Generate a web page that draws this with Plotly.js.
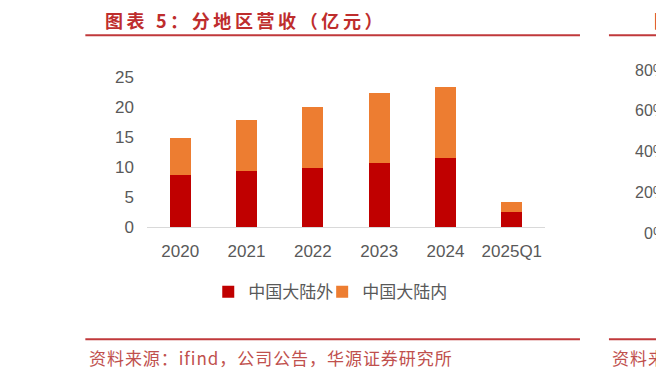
<!DOCTYPE html>
<html>
<head>
<meta charset="utf-8">
<script src="https://cdn.plot.ly/plotly-3.0.1.min.js"></script>
<style>html,body{margin:0;padding:0;background:#fff;}#chart{width:656px;height:377px;}</style>
</head>
<body>
<div id="chart"></div>
<script>
// ---- data ----
const categories = ['2020', '2021', '2022', '2023', '2024', '2025Q1'];
const outsideMainland = [8.7, 9.3, 9.9, 10.7, 11.5, 2.5];   // 中国大陆外
const insideMainland  = [6.2, 8.6, 10.1, 11.6, 11.8, 1.7];  // 中国大陆内
const seriesNames = ['中国大陆外', '中国大陆内'];
const yTicks = [0, 5, 10, 15, 20, 25];
const titleText = '图表 5：分地区营收（亿元）';
const sourceText = '资料来源：ifind，公司公告，华源证券研究所';
const neighbourTicks = ['80%', '60%', '40%', '20%', '0%'];

// ---- layout geometry (pixels) ----
const W = 656, H = 377;
const L = 146.7, R = 545, T = 76.7, B = 226.7;
const px = v => (v - L) / (R - L);
const py = v => (B - v) / (B - T);

const red = '#C00000', orange = '#ED7D31';
const accent = '#C0393B';
const tickFont = {family: '"Liberation Sans", Arial, sans-serif', size: 17, color: '#595959'};
const legendFont = {family: '"Noto Sans CJK SC", sans-serif', size: 17, color: '#595959'};

const traces = [
  {type: 'bar', x: categories, y: outsideMainland, name: seriesNames[0], marker: {color: red}, legend: 'legend'},
  {type: 'bar', x: categories, y: insideMainland, name: seriesNames[1], marker: {color: orange}, legend: 'legend2'}
];

const annotations = [
  {text: titleText, xref: 'paper', yref: 'paper', x: px(103), y: py(20), xanchor: 'left', yanchor: 'middle',
   showarrow: false, font: {family: '"Noto Sans CJK SC", sans-serif', size: 18, color: '#BE2D2D', weight: 700}},
  {text: sourceText, xref: 'paper', yref: 'paper', x: px(87), y: py(357), xanchor: 'left', yanchor: 'middle',
   showarrow: false, font: {family: '"Noto Sans CJK SC", sans-serif', size: 17, color: '#C0504D'}},
  {text: '图表 6', xref: 'paper', yref: 'paper', x: px(652), y: py(20), xanchor: 'left', yanchor: 'middle',
   showarrow: false, font: {family: '"Noto Sans CJK SC", sans-serif', size: 18, color: '#BE2D2D', weight: 700}},
  {text: '资料来源', xref: 'paper', yref: 'paper', x: px(610), y: py(357), xanchor: 'left', yanchor: 'middle',
   showarrow: false, font: {family: '"Noto Sans CJK SC", sans-serif', size: 17, color: '#C0504D'}}
];
const neighbourY = [70, 110, 151.5, 192.5, 233];
neighbourTicks.forEach((t, i) => annotations.push({
  text: t, xref: 'paper', yref: 'paper', x: px(669), y: py(neighbourY[i]), xanchor: 'right', yanchor: 'middle',
  showarrow: false, font: {family: '"Liberation Sans", Arial, sans-serif', size: 16, color: '#595959'}
}));

const line = (x0, x1, y) => ({type: 'line', xref: 'paper', yref: 'paper', x0: px(x0), x1: px(x1), y0: py(y), y1: py(y),
  line: {color: accent, width: 2}});
const shapes = [line(85, 580, 35), line(85, 580, 339), line(609, 660, 35), line(609, 660, 339)];

const layout = {
  width: W, height: H,
  margin: {l: L, r: W - R, t: T, b: H - B, pad: 0},
  paper_bgcolor: '#fff', plot_bgcolor: '#fff',
  barmode: 'stack', bargap: 0.68,
  showlegend: true,
  legend: {orientation: 'h', x: px(208), y: py(292), xanchor: 'left', yanchor: 'middle',
    font: legendFont, bgcolor: 'rgba(0,0,0,0)'},
  legend2: {orientation: 'h', x: px(322), y: py(292), xanchor: 'left', yanchor: 'middle',
    font: legendFont, bgcolor: 'rgba(0,0,0,0)'},
  xaxis: {type: 'category', range: [-0.5, 5.5], showgrid: false, zeroline: false, showline: true,
    linecolor: '#D9D9D9', linewidth: 1.3, ticks: '', tickfont: tickFont, ticklabelstandoff: 8, fixedrange: true},
  yaxis: {range: [0, 25], tickvals: yTicks, showgrid: false, zeroline: false, showline: false, ticks: '',
    tickfont: tickFont, ticklabelstandoff: 12, fixedrange: true},
  annotations: annotations,
  shapes: shapes,
  hovermode: false
};

const spacing = {0: 3.6, 1: 0.95, 2: 3.6, 3: 0.95};
Plotly.newPlot('chart', traces, layout, {staticPlot: true, displayModeBar: false}).then(gd => {
  Object.keys(spacing).forEach(i => {
    gd.querySelectorAll('g.annotation[data-index="' + i + '"] text').forEach(t => {
      const left = t.getBBox().x;
      t.setAttribute('text-anchor', 'start');
      t.setAttribute('x', left);
      t.setAttribute('letter-spacing', spacing[i]);
      t.style.letterSpacing = spacing[i] + 'px';
    });
  });
});
</script>
</body>
</html>
